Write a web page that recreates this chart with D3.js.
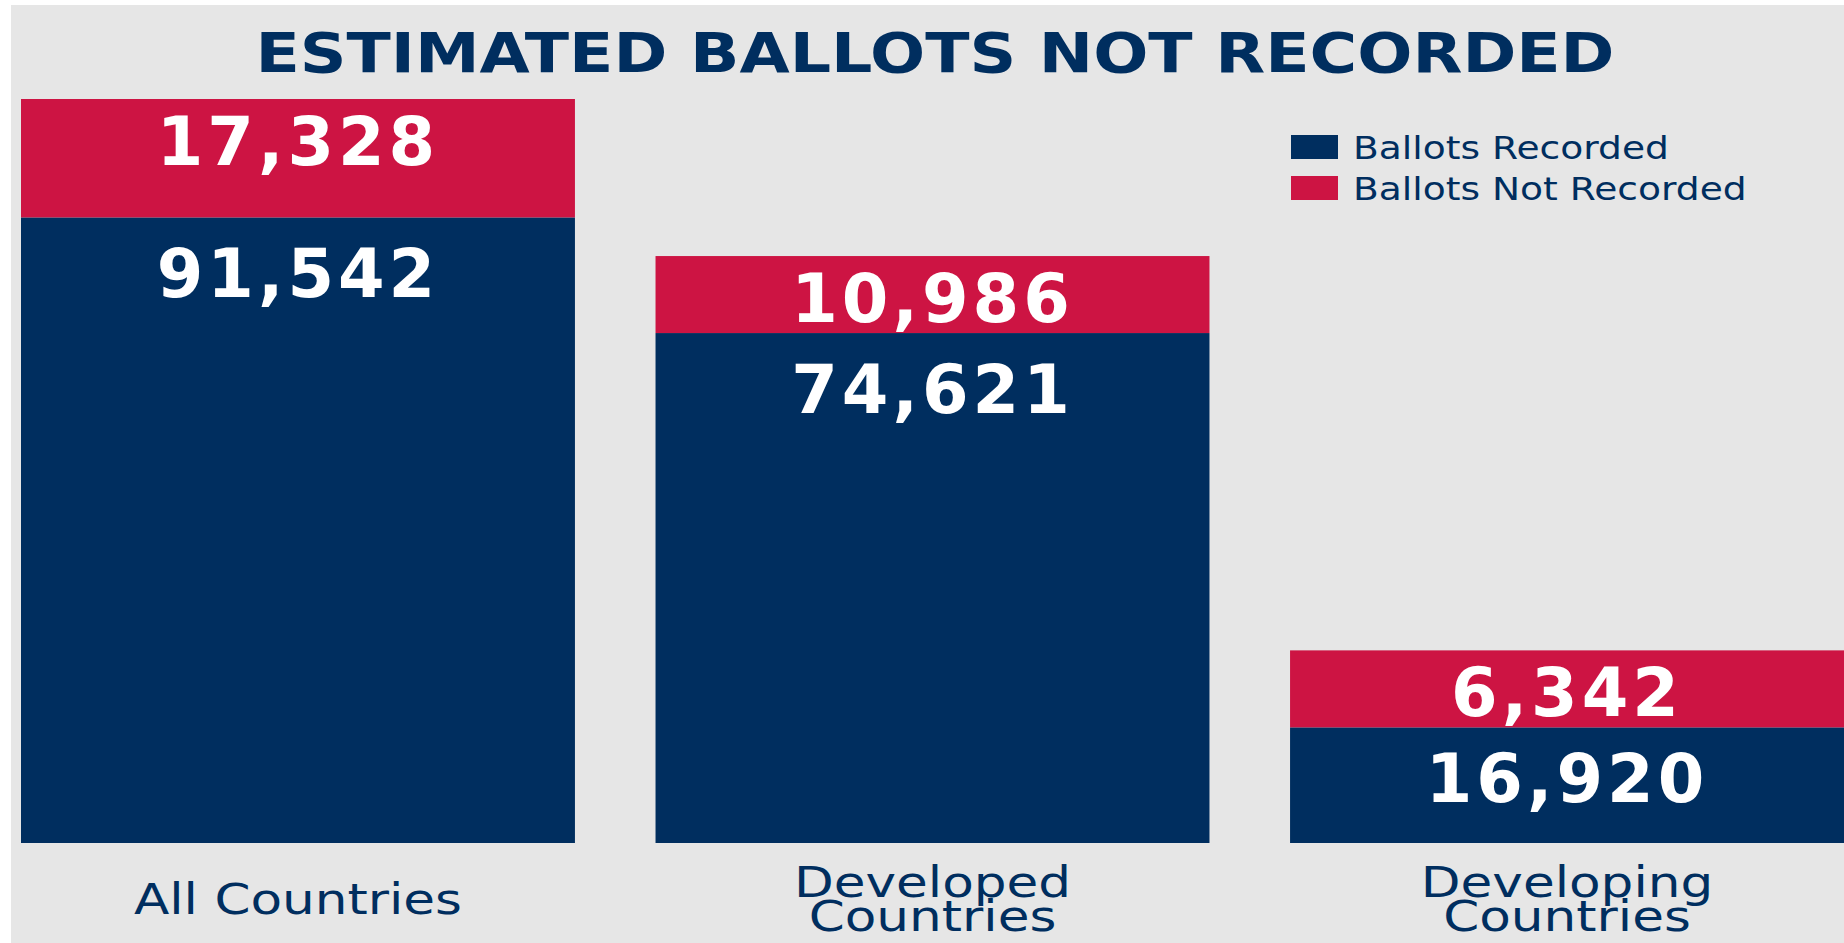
<!DOCTYPE html>
<html>
<head>
<meta charset="utf-8">
<script src="https://cdn.jsdelivr.net/npm/d3@7"></script>
<style>
  html, body { margin: 0; padding: 0; background: #fff; }
  svg { display: block; }
</style>
</head>
<body>
<script>
// stacked bars: ballots recorded vs not recorded

var categories = ["All Countries", "Developed Countries", "Developing Countries"];
var labelLines = [["All Countries"], ["Developed", "Countries"], ["Developing", "Countries"]];
var recorded = [91542, 74621, 16920];
var notRecorded = [17328, 10986, 6342];
var seriesNames = ["Ballots Recorded", "Ballots Not Recorded"];

var W = 1844, H = 943;
var NAVY = "#002e5f", RED = "#cd1443", BG = "#e6e6e6";
var MIN_SEG = 77;    // room for the value label inside a segment
var STRETCH = 1.23;  // the source lettering is wide

var svg = d3.select("body").append("svg")
  .attr("width", W)
  .attr("height", H);

svg.append("rect")
  .attr("x", 11).attr("y", 5)
  .attr("width", W - 11).attr("height", H - 5)
  .attr("fill", BG);

var x = d3.scaleBand()
  .domain(categories)
  .range([21, W])
  .paddingInner(0.127)
  .paddingOuter(0);

var maxTotal = d3.max(categories, function(c, i) { return recorded[i] + notRecorded[i]; });
var y = d3.scaleLinear()
  .domain([0, maxTotal])
  .range([843, 99]);

function segH(v) {
  return Math.max(y(0) - y(v), MIN_SEG);
}

// build stacked segments
var segs = [];
categories.forEach(function(c, i) {
  var hRec = segH(recorded[i]);
  var hNot = segH(notRecorded[i]);
  var base = y(0);
  segs.push({cat: c, value: recorded[i], top: base - hRec, h: hRec, color: NAVY, kind: 0});
  segs.push({cat: c, value: notRecorded[i], top: base - hRec - hNot, h: hNot, color: RED, kind: 1});
});

var g = svg.append("g");

g.selectAll("rect.seg")
  .data(segs)
  .enter().append("rect")
  .attr("class", "seg")
  .attr("x", function(d) { return x(d.cat); })
  .attr("y", function(d) { return d.top; })
  .attr("width", x.bandwidth())
  .attr("height", function(d) { return d.h; })
  .attr("fill", function(d) { return d.color; });

var fmt = d3.format(",d");
g.selectAll("text.val")
  .data(segs)
  .enter().append("text")
  .attr("class", "val")
  .attr("x", function(d) { return x(d.cat) + x.bandwidth() / 2; })
  .attr("y", function(d) {
    if (d.kind === 1) return d.top + 66;
    return d.top + Math.min(80, d.h / 2 + 17);
  })
  .attr("text-anchor", "middle")
  .attr("fill", "#fff")
  .style("font-family", "'DejaVu Sans', sans-serif")
  .style("font-weight", "bold")
  .style("font-size", "67px")
  .style("letter-spacing", "4px")
  .text(function(d) { return fmt(d.value); });

// category labels under bars
var lab = g.selectAll("text.cat")
  .data(categories)
  .enter().append("text")
  .attr("class", "cat")
  .attr("text-anchor", "middle")
  .attr("fill", NAVY)
  .attr("transform", function(c) {
    return "translate(" + (x(c) + x.bandwidth() / 2) + ",0) scale(" + STRETCH + ",1)";
  })
  .style("font-family", "'DejaVu Sans', sans-serif")
  .style("font-size", "42px");

lab.each(function(c, i) {
  var lines = labelLines[i];
  var y0 = 914 - (lines.length - 1) * 17;
  d3.select(this).selectAll("tspan")
    .data(lines)
    .enter().append("tspan")
    .attr("x", 0)
    .attr("y", function(l, j) { return y0 + j * 34; })
    .text(function(l) { return l; });
});

// title
svg.append("text")
  .attr("x", 935)
  .attr("y", 72)
  .attr("text-anchor", "middle")
  .attr("fill", NAVY)
  .attr("textLength", 1359)
  .attr("lengthAdjust", "spacingAndGlyphs")
  .style("font-family", "'DejaVu Sans', sans-serif")
  .style("font-weight", "bold")
  .style("font-size", "55px")
  .text("ESTIMATED BALLOTS NOT RECORDED");

// legend
var legend = svg.append("g")
  .attr("transform", "translate(1291,135)");

var item = legend.selectAll("g")
  .data(seriesNames)
  .enter().append("g")
  .attr("transform", function(d, i) { return "translate(0," + (i * 41) + ")"; });

item.append("rect")
  .attr("width", 47)
  .attr("height", 24)
  .attr("fill", function(d, i) { return i === 0 ? NAVY : RED; });

item.append("text")
  .attr("transform", "translate(62,24) scale(1.175,1)")
  .attr("fill", NAVY)
  .style("font-family", "'DejaVu Sans', sans-serif")
  .style("font-size", "32px")
  .text(function(d) { return d; });
</script>
</body>
</html>
